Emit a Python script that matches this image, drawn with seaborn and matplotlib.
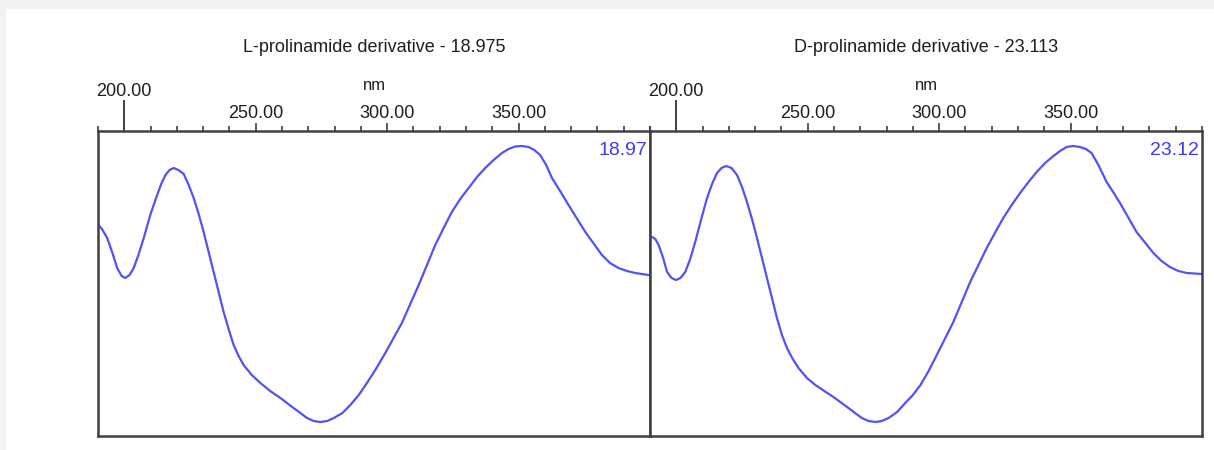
import numpy as np
import pandas as pd
import seaborn as sns
import matplotlib
matplotlib.use("Agg")
import matplotlib.pyplot as plt
from matplotlib.patches import Rectangle
from matplotlib.ticker import MultipleLocator, FixedLocator

# ---- data (wavelength nm, signal) ----
l_nm = [190.2, 191.5, 193.5, 195.5, 197.3, 199.0, 200.4, 202.0, 203.6, 205.5,
        207.4, 210.0, 212.5, 214.2, 215.7, 217.2, 218.8, 220.6, 222.6, 224.5,
        226.4, 228.3, 230.2, 234.0, 237.8, 239.8, 241.6, 243.5, 245.4, 248.5,
        251.8, 255.5, 259.4, 264.4, 267.0, 269.5, 272.0, 274.6, 277.2, 279.7,
        283.0, 286.0, 289.2, 292.3, 295.5, 299.3, 305.6, 312.0, 318.3, 321.5,
        324.6, 327.8, 331.0, 334.2, 337.3, 340.5, 343.7, 346.2, 348.7, 351.2,
        353.8, 356.0, 358.2, 360.5, 362.7, 365.8, 369.0, 375.4, 381.7, 384.8,
        388.0, 391.2, 394.4, 399.4]
l_val = [211, 207, 198, 183, 168, 160, 158, 161, 168, 182,
         198, 222, 241, 253, 261, 266, 268, 266, 262, 251,
         238, 222, 204, 164, 124, 106, 91, 80, 71, 61,
         53, 45, 38, 28, 23, 18, 15, 14, 15, 18,
         23, 31, 41, 53, 66, 83, 113, 151, 191, 208,
         224, 237, 248, 259, 268, 276, 283, 287, 289.5, 290,
         289, 286, 281, 271, 258, 245, 231, 204, 181, 173,
         168, 165, 163, 161]

d_nm = [190.8, 192.0, 193.3, 195.0, 196.5, 198.2, 199.9, 201.6, 203.4, 205.3,
        207.2, 209.5, 211.7, 213.6, 215.5, 217.2, 219.0, 221.0, 223.1, 225.0,
        226.9, 228.8, 230.7, 234.5, 238.3, 240.2, 242.1, 244.3, 246.5, 249.7,
        252.9, 256.3, 259.8, 265.5, 268.0, 270.6, 273.1, 275.7, 278.2, 280.8,
        284.0, 287.1, 290.0, 292.9, 296.0, 299.1, 305.4, 311.8, 318.1, 321.2,
        324.4, 327.6, 330.8, 334.0, 337.1, 340.3, 343.5, 346.0, 348.5, 351.0,
        353.6, 355.8, 358.0, 360.8, 363.7, 366.2, 368.8, 375.1, 381.5, 384.6,
        387.8, 391.0, 394.2, 399.9]
d_val = [199, 197, 191, 178, 164, 158, 156, 158, 164, 177,
         194, 217, 238, 252, 263, 268, 270, 268, 261, 249,
         234, 217, 198, 158, 118, 101, 88, 77, 68, 58,
         51, 45, 39, 28, 23, 18, 15, 14, 15, 18,
         24, 33, 41, 51, 65, 81, 114, 154, 188, 203,
         218, 231, 243, 254, 264, 273, 280, 285, 289, 290,
         289, 287, 283, 270, 254, 244, 233, 204, 183, 175,
         169, 165, 163, 162]

titles = ["L-prolinamide derivative - 18.975", "D-prolinamide derivative - 23.113"]
peak_labels = ["18.97", "23.12"]
major_ticks = [250, 300, 350]
major_labels = ["250.00", "300.00", "350.00"]
start_tick = [200]
start_label = ["200.00"]

sns.set_theme(style="white")
plt.rcParams['font.family'] = ['Liberation Sans', 'DejaVu Sans']

W, H = 1214, 450
fig = plt.figure(figsize=(W / 100, H / 100), dpi=100, facecolor="#f1f2f4")
fig.patches.append(Rectangle((6 / W, 0), 1 - 6 / W, (H - 9) / H,
                             transform=fig.transFigure, facecolor="white",
                             edgecolor="none", zorder=-10))

line_col = "#5252f5"
text_col = "#3b3bf2"
spine_col = "#404040"
label_col = "#1e1e1e"

bottom = 14 / H
height = 305 / H
lefts = [98 / W, 650 / W]
width = 552 / W

datasets = [(l_nm, l_val), (d_nm, d_val)]
for i in range(2):
    ax = fig.add_axes([lefts[i], bottom, width, height])
    ax.set_zorder(1)
    ax.set_facecolor("white")
    df = pd.DataFrame({"nm": datasets[i][0], "val": datasets[i][1]})
    sns.lineplot(data=df, x="nm", y="val", ax=ax, color=line_col, lw=1.6,
                 sort=False, estimator=None, solid_joinstyle="round",
                 solid_capstyle="round")
    ax.set_xlim(190, 400)
    ax.set_ylim(0, 305)
    ax.set_ylabel("")
    ax.set_xlabel("")
    ax.set_yticks([])
    for s in ax.spines.values():
        s.set_color(spine_col)
        s.set_linewidth(1.8)
    ax.xaxis.tick_top()
    ax.xaxis.set_major_locator(FixedLocator(major_ticks))
    ax.set_xticklabels(major_labels, fontsize=13, color=label_col)
    ax.xaxis.set_minor_locator(MultipleLocator(10))
    ax.tick_params(axis="x", which="major", direction="out", length=6,
                   width=1.2, color=spine_col, pad=0.5)
    ax.tick_params(axis="x", which="minor", direction="out", length=3.5,
                   width=1.2, color=spine_col, top=True, bottom=False)
    ax.tick_params(axis="x", bottom=False)

    sec = ax.secondary_xaxis("top")
    sec.set_xticks(start_tick)
    sec.set_xticklabels(start_label, fontsize=13, color=label_col)
    sec.tick_params(axis="x", length=22, width=1.4, color=spine_col, pad=0.5)
    sec.spines["top"].set_visible(False)

    ax.text(0.5, 1.0 + 46 / 305, "nm", transform=ax.transAxes,
            ha="center", va="center", fontsize=12, color=label_col)
    ax.text(0.5, 1.0 + 83 / 305, titles[i], transform=ax.transAxes,
            ha="center", va="center", fontsize=13, color=label_col)
    ax.text(0.995, 0.935, peak_labels[i], transform=ax.transAxes,
            ha="right", va="center", fontsize=14, color=text_col)

fig.savefig("out.png", dpi=100, facecolor=fig.get_facecolor())
